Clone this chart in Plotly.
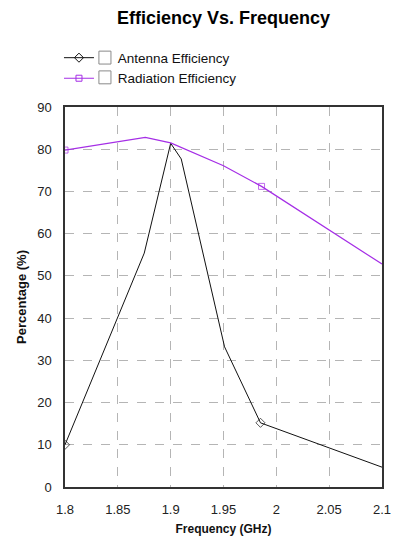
import plotly.graph_objects as go

# Data
ant_freq = [1.8, 1.875, 1.9, 1.91, 1.951, 1.985, 2.1]
ant_eff = [10.0, 55.4, 81.4, 77.7, 33.2, 15.2, 4.7]
ant_marked = [True, False, False, False, False, True, False]

rad_freq = [1.8, 1.85, 1.876, 1.9, 1.95, 1.986, 2.05, 2.1]
rad_eff = [79.8, 81.8, 82.8, 81.5, 76.1, 71.2, 60.8, 52.8]
rad_marked = [True, False, False, False, False, True, False, False]

x_ticks = [1.8, 1.85, 1.9, 1.95, 2.0, 2.05, 2.1]
x_ticklabels = ["1.8", "1.85", "1.9", "1.95", "2", "2.05", "2.1"]
y_ticks = list(range(0, 91, 10))

FONT = "Liberation Sans, Arial, sans-serif"
PAD = "\u00a0" * 5
ANT_COLOR = "#111111"
RAD_COLOR = "#a52ee6"

fig = go.Figure()
fig.add_trace(go.Scatter(
    x=ant_freq, y=ant_eff, mode="lines+markers", showlegend=False,
    line=dict(color=ANT_COLOR, width=1),
    marker=dict(symbol="diamond-open", size=[7 if m else 0 for m in ant_marked],
                color=ANT_COLOR, line=dict(width=1, color=ANT_COLOR)),
))
fig.add_trace(go.Scatter(
    x=rad_freq, y=rad_eff, mode="lines+markers", showlegend=False,
    line=dict(color=RAD_COLOR, width=1.2),
    marker=dict(symbol="square-open", size=[6 if m else 0 for m in rad_marked],
                color=RAD_COLOR, line=dict(width=1, color=RAD_COLOR)),
))
# legend entries
fig.add_trace(go.Scatter(
    x=[None], y=[None], mode="lines+markers", name=PAD + "Antenna Efficiency",
    line=dict(color=ANT_COLOR, width=1),
    marker=dict(symbol="diamond-open", size=7, color=ANT_COLOR, line=dict(width=1, color=ANT_COLOR)),
))
fig.add_trace(go.Scatter(
    x=[None], y=[None], mode="lines+markers", name=PAD + "Radiation Efficiency",
    line=dict(color=RAD_COLOR, width=1.2),
    marker=dict(symbol="square-open", size=6, color=RAD_COLOR, line=dict(width=1, color=RAD_COLOR)),
))

# legend checkboxes
for y0, y1 in [(1.113, 1.147), (1.061, 1.095)]:
    fig.add_shape(type="rect", xref="paper", yref="paper", x0=0.107, x1=0.145, y0=y0, y1=y1,
                  line=dict(color="#8a8a8a", width=1), fillcolor="white")

fig.update_layout(
    width=393, height=536,
    margin=dict(l=65, r=11, t=107, b=49, autoexpand=False),
    paper_bgcolor="white", plot_bgcolor="white",
    font=dict(family=FONT, size=12, color="#222222"),
    title=dict(text="<b>Efficiency Vs. Frequency</b>", x=0.5, xref="paper", xanchor="center",
               y=1 - 18 / 536, yref="container", yanchor="middle",
               font=dict(size=18, color="#000000", family=FONT)),
    showlegend=True,
    legend=dict(x=-0.019, y=1.17, xanchor="left", yanchor="top", bgcolor="rgba(0,0,0,0)",
                font=dict(size=13.5, color="#111111"), tracegroupgap=0),
)
fig.update_xaxes(
    range=[1.8, 2.1], tickvals=x_ticks, ticktext=x_ticklabels, automargin=False,
    showgrid=True, gridcolor="#b5b5b5", griddash="dash", gridwidth=1,
    showline=True, linecolor="#333333", linewidth=1.5, mirror=True,
    ticks="", ticklabelstandoff=10, zeroline=False,
    tickfont=dict(size=13, color="#222222"),
    title=dict(text="<b>Frequency (GHz)</b>", font=dict(size=12, color="#111111"), standoff=10),
)
fig.update_yaxes(
    range=[0, 90], tickvals=y_ticks, automargin=False,
    showgrid=True, gridcolor="#b5b5b5", griddash="dash", gridwidth=1,
    showline=True, linecolor="#333333", linewidth=1.5, mirror=True,
    ticks="", ticklabelstandoff=9, zeroline=False,
    tickfont=dict(size=13, color="#222222"),
    title=dict(text="<b>Percentage (%)</b>", font=dict(size=13, color="#111111"), standoff=8),
)

fig.write_html("out.html")
